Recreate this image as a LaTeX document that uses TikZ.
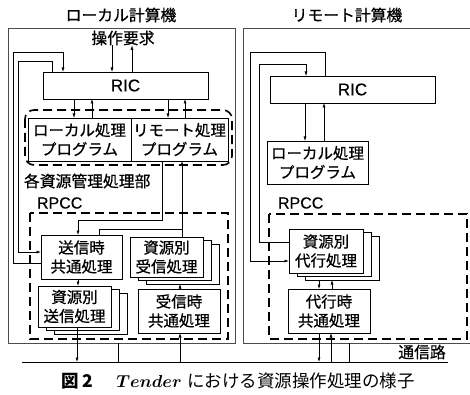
\documentclass[tikz,border=0pt]{standalone}
\usepackage{fontspec}
\setsansfont[FakeBold=0.4]{Liberation Sans}
\newfontfamily\jp[FakeBold=0.6]{Noto Sans CJK JP}
\newfontfamily\jpcap{Noto Sans CJK JP}
\usetikzlibrary{arrows.meta,calc}
\begin{document}
\begin{tikzpicture}[x=1pt,y=-1pt,
  every node/.style={inner sep=0pt, outer sep=0pt},
  jtext/.style={font=\jp\fontsize{15.8}{19}\selectfont, align=center},
  box/.style={draw, line width=0.6pt, fill=white, rectangle, align=center, font=\jp\fontsize{15.5}{19}\selectfont},
  latin/.style={font=\sffamily\fontsize{17}{19}\selectfont},
  machine/.style={draw=black!70, line width=0.7pt, rectangle},
  grp/.style={draw, line width=1.6pt, dash pattern=on 9pt off 5pt},
  arr/.style={-{Latex[length=4.5pt,width=3pt]}, line width=0.6pt},
  ln/.style={line width=0.6pt},
]
\useasboundingbox[fill=white] (0,0) rectangle (470,395);

% machines
\node[machine, minimum width=227, minimum height=315] (machL) at (121.5,185.5) {};
\node[machine, minimum width=232, minimum height=315] (machR) at (359,185.5) {};
\node[jtext] (titleL) at (121,15) {ローカル計算機};
\node[jtext] (titleR) at (347,15) {リモート計算機};

% ---------- left ----------
\node[jtext] (op) at (123,38) {操作要求};
\node[box, latin, minimum width=165, minimum height=27] (ricL) at (125.5,85.5) {RIC};
\draw[grp, rounded corners=9] (25,110) rectangle (232,165);
\node[box, minimum width=103, minimum height=43] (progL) at (79.5,139.5) {ローカル処理\\プログラム};
\node[box, minimum width=97, minimum height=43] (progR) at (179.5,139.5) {リモート処理\\プログラム};
\node[jtext, anchor=west] (kaku) at (24,181) {各資源管理処理部};
\node[latin, font=\sffamily\fontsize{16}{18}\selectfont, anchor=west] (rpccL) at (37,203) {RPCC};
\draw[grp] (30,213) rectangle (228,339);

\node[box, minimum width=81, minimum height=44] (sendC) at (81.5,257) {送信時\\共通処理};
\node[box, minimum width=73, minimum height=41] (sendR3) at (90.5,313.5) {};
\node[box, minimum width=73, minimum height=41] (sendR2) at (82.5,310) {};
\node[box, minimum width=73, minimum height=41] (sendR) at (74.5,306.5) {資源別\\送信処理};
\node[box, minimum width=73, minimum height=40] (recvR3) at (182.5,264) {};
\node[box, minimum width=73, minimum height=40] (recvR2) at (174.5,260.5) {};
\node[box, minimum width=73, minimum height=40] (recvR) at (166.5,257) {資源別\\受信処理};
\node[box, minimum width=82, minimum height=44] (recvC) at (179,311) {受信時\\共通処理};

% ---------- right ----------
\node[box, latin, minimum width=165, minimum height=27] (ricR) at (352.5,89.5) {RIC};
\node[box, minimum width=101, minimum height=43] (progL2) at (317.5,162.5) {ローカル処理\\プログラム};
\node[latin, font=\sffamily\fontsize{16}{18}\selectfont, anchor=west] (rpccR) at (278,203) {RPCC};
\draw[grp] (269,214) rectangle (467,339);
\node[box, minimum width=74, minimum height=44] (actR3) at (342,258) {};
\node[box, minimum width=74, minimum height=44] (actR2) at (334,254.5) {};
\node[box, minimum width=74, minimum height=44] (actR) at (326,251) {資源別\\代行処理};
\node[box, minimum width=82, minimum height=44] (actC) at (329,311) {代行時\\共通処理};

% communication line
\coordinate (commL) at (22,362);
\coordinate (commR) at (448,362);
\draw[line width=0.8pt] (commL) -- (commR);
\node[jtext] (tsushin) at (422,352) {通信路};

% caption
\node[font=\fontsize{17.5}{20}\selectfont] (cap) at (238,381) {{\jpcap\bfseries 図 2}\quad\ {\boldmath$Tender$} {\jpcap における資源操作処理の様子}};

% ---------- left connectors ----------
\draw[arr] (op.south -| 112,0) -- (ricL.north -| 112,0);
\draw[arr] (ricL.north -| 132,0) -- (op.south -| 132,0);
\draw[arr] (ricL.south -| 74,0) -- (progL.north -| 74,0);
\draw[arr] (progL.north -| 92,0) -- (ricL.south -| 92,0);
\draw[arr] (ricL.south -| 168,0) -- (progR.north -| 168,0);
\draw[arr] (progR.north -| 185,0) -- (ricL.south -| 185,0);
\draw[arr] (ricL.north -| 52,0) |- (18,61) |- (sendC.west |- 0,252);
\draw[arr] (sendC.west |- 0,263) -| (13,52) -| (ricL.north -| 63,0);
\draw[arr] (progR.south -| 162,0) |- (78,220) -- (sendC.north -| 78,0);
\draw[arr] (recvR.north -| 182,0) -- (progR.south -| 182,0);
\draw[ln] (sendC.north -| 99,0) |- (182,229);
\draw[arr] (sendC.south -| 78,0) -- (sendR.north -| 78,0);
\draw[arr] (sendR.south -| 77,0) -- (commL -| 77,0);
\draw[ln] (machL.south -| 118,0) -- (commL -| 118,0);
\draw[arr] (commL -| 180,0) -- (recvC.south -| 180,0);
\draw[arr] (recvC.north -| 180,0) -- (recvR3.south -| 180,0);

% ---------- right connectors ----------
\draw[arr] (ricR.south -| 305,0) -- (progL2.north -| 305,0);
\draw[arr] (progL2.north -| 324,0) -- (ricR.south -| 324,0);
\draw[arr] (actR.west |- 0,242) -| (259,64) -| (ricR.north -| 306,0);
\draw[arr] (ricR.north -| 325,0) |- (250,52) |- (actR.west |- 0,261);
\draw[arr] (actR3.south -| 319,0) -- (actC.north -| 319,0);
\draw[arr] (actC.north -| 332,0) -- (actR3.south -| 332,0);
\draw[arr] (actC.south -| 319,0) -- (commL -| 319,0);
\draw[arr] (commL -| 331,0) -- (actC.south -| 331,0);
\draw[ln] (machR.south -| 349,0) -- (commL -| 349,0);
\end{tikzpicture}
\end{document}
